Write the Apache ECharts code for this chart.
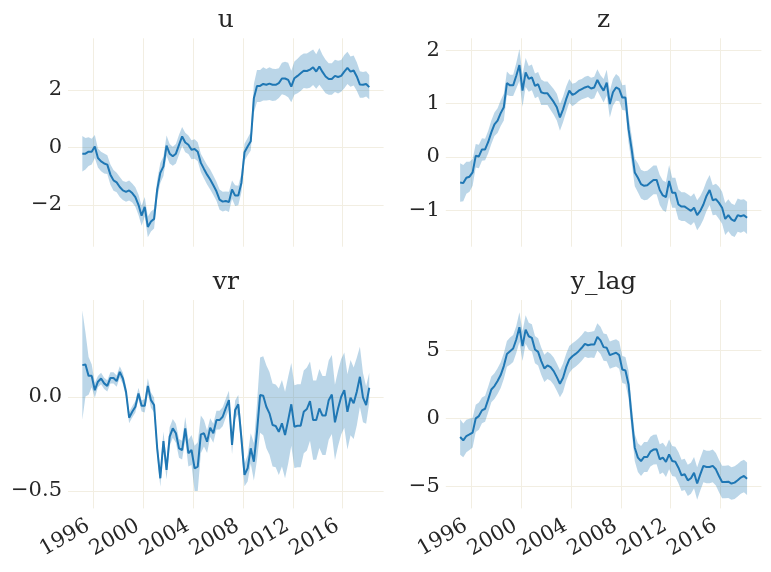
<!DOCTYPE html>
<html>
<head>
<meta charset="utf-8">
<script src="https://cdn.jsdelivr.net/npm/echarts@6/dist/echarts.min.js"></script>
<style>
html, body { margin: 0; padding: 0; background: #fff; }
#chart { width: 771px; height: 572px; }
</style>
</head>
<body>
<div id="chart"></div>
<script>
// quarterly observations 1995Q1 - 2018Q1, plotted mid-quarter
const quarters = []
for (let y = 1995; y <= 2018; y++) {
  for (let q = 1; q <= 4; q++) {
    if (y === 2018 && q > 1) break
    quarters.push(y + '-Q' + q)
  }
}
const xYears = quarters.map(s => Number(s.slice(0, 4)) + (Number(s.slice(6)) - 1) * 0.25 + 0.125)

const yearTicks = [1996, 2000, 2004, 2008, 2012, 2016]

// u
const u = [-0.22, -0.22, -0.15, -0.15, 0.03, -0.37, -0.49, -0.56, -0.6, -0.95,
  -1.15, -1.22, -1.38, -1.5, -1.55, -1.5, -1.59, -1.73, -2.0, -2.38,
  -2.07, -2.77, -2.58, -2.49, -1.47, -0.89, -0.66, 0.06, -0.22, -0.31,
  -0.22, 0.09, 0.38, 0.17, 0.09, -0.08, -0.06, -0.15, -0.54, -0.75,
  -0.95, -1.12, -1.32, -1.53, -1.82, -1.89, -1.87, -1.9, -1.47, -1.68,
  -1.68, -1.24, -0.17, 0.03, 0.21, 1.71, 2.14, 2.14, 2.21, 2.18,
  2.22, 2.18, 2.18, 2.24, 2.4, 2.4, 2.35, 2.12, 2.41, 2.49,
  2.58, 2.67, 2.66, 2.71, 2.79, 2.64, 2.82, 2.63, 2.47, 2.38,
  2.38, 2.49, 2.45, 2.49, 2.64, 2.77, 2.64, 2.68, 2.47, 2.19,
  2.18, 2.21, 2.1]
const uErr = [0.62, 0.55, 0.5, 0.45, 0.4,
  0.33, 0.34, 0.35, 0.33, 0.35, 0.36, 0.34, 0.35, 0.33, 0.34, 0.35, 0.33, 0.34, 0.36, 0.35, 0.34, 0.36, 0.35, 0.34,
  0.33, 0.35, 0.34, 0.35, 0.34, 0.33, 0.34, 0.35, 0.33, 0.34, 0.32, 0.33, 0.34, 0.33, 0.32, 0.33,
  0.34, 0.35, 0.34, 0.33, 0.35, 0.34, 0.33, 0.35, 0.32, 0.36, 0.34, 0.33, 0.3, 0.3, 0.32,
  0.5, 0.56, 0.56, 0.58, 0.55, 0.57, 0.56, 0.55, 0.52, 0.55, 0.58, 0.6, 0.55, 0.58, 0.6, 0.62, 0.6, 0.61, 0.63,
  0.62, 0.6, 0.64, 0.6, 0.58, 0.55, 0.55, 0.56, 0.57, 0.55, 0.58, 0.56, 0.53, 0.52, 0.5, 0.46, 0.45, 0.44, 0.42]
const uTicks = [-2, 0, 2]

// z
const z = [-0.48, -0.49, -0.39, -0.37, -0.29, 0.02, 0.01, 0.14, 0.14, 0.28,
  0.46, 0.61, 0.68, 0.82, 0.93, 1.38, 1.34, 1.34, 1.52, 1.72,
  1.24, 1.58, 1.46, 1.49, 1.33, 1.36, 1.21, 1.19, 1.19, 1.11,
  1.03, 0.93, 0.74, 0.89, 1.08, 1.24, 1.16, 1.19, 1.24, 1.27,
  1.3, 1.32, 1.28, 1.3, 1.44, 1.33, 1.24, 1.39, 0.99, 1.21,
  1.3, 1.27, 1.11, 1.11, 0.52, 0.14, -0.29, -0.39, -0.51, -0.54,
  -0.53, -0.48, -0.43, -0.43, -0.62, -0.72, -0.75, -0.45, -0.67, -0.67,
  -0.89, -0.93, -0.93, -0.97, -1.01, -0.95, -1.09, -1.01, -0.89, -0.73,
  -0.62, -0.81, -0.79, -0.86, -0.95, -1.16, -1.09, -1.17, -1.2, -1.09,
  -1.11, -1.09, -1.14]
const zErr = [0.36, 0.34, 0.3, 0.28, 0.25,
  0.22, 0.22, 0.21, 0.2, 0.21, 0.22, 0.22, 0.23, 0.24, 0.25,
  0.22, 0.2, 0.2, 0.24, 0.3, 0.3,
  0.27, 0.24, 0.24, 0.23, 0.23, 0.24, 0.22, 0.22, 0.23, 0.24, 0.25, 0.25, 0.24, 0.24, 0.22, 0.21, 0.2,
  0.2, 0.19, 0.2, 0.2, 0.2, 0.2, 0.2, 0.2, 0.22, 0.24, 0.25, 0.25, 0.25, 0.23, 0.23, 0.24,
  0.25, 0.25, 0.26, 0.27, 0.27, 0.27, 0.27, 0.27, 0.27, 0.27, 0.28, 0.28, 0.28, 0.3, 0.28, 0.28, 0.28, 0.27, 0.27,
  0.27, 0.27, 0.27, 0.28, 0.28, 0.28, 0.28, 0.28, 0.28, 0.29, 0.3, 0.3, 0.3, 0.3, 0.3, 0.3, 0.31, 0.31, 0.3, 0.3]
const zTicks = [-1, 0, 1, 2]

// vr
const vr = [0.168, 0.171, 0.111, 0.111, 0.035, 0.08, 0.097, 0.071, 0.058, 0.1,
  0.1, 0.083, 0.132, 0.097, 0.027, -0.111, -0.08, -0.053, 0.018, -0.048,
  -0.048, 0.058, -0.018, -0.044, -0.274, -0.433, -0.235, -0.389, -0.212, -0.168,
  -0.194, -0.274, -0.283, -0.168, -0.3, -0.283, -0.38, -0.371, -0.2, -0.194,
  -0.239, -0.164, -0.194, -0.124, -0.124, -0.106, -0.06,
  -0.018, -0.256, -0.07, -0.04, -0.22, -0.415, -0.38, -0.274, -0.345, -0.186,
  0.009, 0.005, -0.053, -0.088, -0.15, -0.155, -0.186, -0.141, -0.203, -0.124,
  -0.04, -0.159, -0.154, -0.154, -0.08, -0.065, -0.023, -0.124, -0.124, -0.062,
  -0.1, -0.1, -0.018, 0.012, -0.136, -0.062, 0.0, 0.035, -0.08, -0.005,
  -0.035, 0.027, 0.106, -0.005, -0.044, 0.048]
const vrErr = [0.29, 0.17, 0.1, 0.06, 0.04,
  0.03, 0.03, 0.03, 0.03, 0.03, 0.03, 0.03, 0.03, 0.03, 0.03,
  0.03, 0.03, 0.03, 0.03, 0.03, 0.035, 0.04, 0.04, 0.04,
  0.04, 0.045, 0.05, 0.05, 0.05, 0.05, 0.05, 0.05, 0.05, 0.06, 0.07, 0.08, 0.12, 0.13, 0.1, 0.07,
  0.06, 0.05, 0.05, 0.05, 0.05, 0.05, 0.05,
  0.05, 0.05, 0.05, 0.05, 0.06, 0.06, 0.07, 0.08, 0.1,
  0.15, 0.2, 0.21, 0.22, 0.22, 0.22, 0.22, 0.23, 0.23, 0.23, 0.23, 0.22, 0.22, 0.22, 0.22, 0.22, 0.22, 0.21,
  0.21, 0.21, 0.21, 0.21, 0.21, 0.21, 0.21, 0.2, 0.2, 0.2, 0.2, 0.2, 0.2, 0.19, 0.18, 0.16, 0.13, 0.1, 0.08]
const vrTicks = [-0.5, 0.0]

// y_lag
const yLag = [-1.37, -1.62, -1.3, -1.18, -1.05, 0.0, 0.17, 0.59, 0.71, 1.4,
  2.13, 2.38, 2.75, 3.19, 3.85, 4.75, 4.95, 5.15, 5.81, 6.72,
  5.32, 6.54, 6.05, 5.93, 5.07, 4.9, 4.22, 3.68, 3.9, 3.77,
  3.48, 3.04, 2.55, 2.99, 3.77, 4.34, 4.58, 4.75, 4.95, 5.2,
  5.49, 5.39, 5.44, 5.44, 6.0, 5.75, 5.25,
  5.2, 4.66, 4.75, 4.83, 4.66, 3.6, 3.53, 2.5, 0.05, -2.16,
  -2.89, -3.14, -2.84, -2.84, -2.45, -2.3, -2.28, -3.01, -2.89, -3.21,
  -2.65, -3.14, -3.19, -3.63, -4.19, -4.12, -4.56, -4.41, -4.0, -4.8,
  -4.12, -3.5, -3.58, -3.58, -3.5, -3.75, -4.24, -4.68, -4.68, -4.66,
  -4.8, -4.73, -4.56, -4.36, -4.24, -4.44]
const yLagErr = [1.3, 1.25, 1.2, 1.15, 1.1,
  1.0, 1.0, 0.95, 0.95, 0.95, 0.95, 0.95, 0.95, 0.95, 0.95, 0.95, 1.0, 1.0, 1.0, 1.1,
  1.1, 1.05, 1.0, 1.0, 1.0, 1.0, 1.0, 1.0, 1.0, 1.0, 1.0, 1.0, 1.0, 1.05, 1.0, 1.0, 0.95, 0.95,
  0.95, 0.95, 0.95, 0.95, 0.95, 1.0, 1.0, 1.0, 1.0, 1.0, 1.0, 1.0, 1.0, 1.0, 1.0, 1.0, 1.0,
  1.0, 1.0, 1.05, 1.1, 1.1, 1.1, 1.1, 1.1, 1.1, 1.1, 1.1, 1.1, 1.1, 1.1, 1.1, 1.15, 1.15, 1.15, 1.15,
  1.15, 1.15, 1.2, 1.2, 1.2, 1.2, 1.2, 1.2, 1.2, 1.2, 1.2, 1.2, 1.2, 1.2, 1.2, 1.2, 1.2, 1.2, 1.2]
const yLagTicks = [-5, 0, 5]

const FONT = 'DejaVu Serif'
const TEXT = '#262626'
const GRIDLINE = '#f2eee2'
const LINE = '#1f77b4'
const BAND = 'rgba(31,119,180,0.3)'

// 面板布局
const panels = [
  { title: 'u', vals: u, errs: uErr, ticks: uTicks, min: -3.46, max: 3.8, left: 68, top: 38.3, dec: 0 },
  { title: 'z', vals: z, errs: zErr, ticks: zTicks, min: -1.68, max: 2.22, left: 445.8, top: 38.3, dec: 0 },
  { title: 'vr', vals: vr, errs: vrErr, ticks: vrTicks, min: -0.593, max: 0.514, left: 68, top: 300, dec: 1 },
  { title: 'y_lag', vals: yLag, errs: yLagErr, ticks: yLagTicks, min: -6.63, max: 8.72, left: 445.8, top: 300, dec: 0 },
]
const W = 315.6
const H = 208.4

function fmt(v, dec) {
  const s = Math.abs(v).toFixed(dec)
  return v < 0 ? '\u2212' + s : s
}

const chart = echarts.init(document.getElementById('chart'))
const option = {
  animation: false,
  backgroundColor: '#fff',
  title: panels.map(p => ({
    text: p.title,
    left: p.left + W / 2,
    top: p.top - 30,
    textAlign: 'center',
    padding: 0,
    textStyle: { fontFamily: FONT, fontSize: 25, fontWeight: 'normal', color: TEXT },
  })),
  grid: panels.map(p => ({ left: p.left, top: p.top, width: W, height: H })),
  xAxis: panels.map((p, k) => ({
    type: 'value',
    gridIndex: k,
    min: 1993.975,
    max: 2019.275,
    axisLine: { show: false },
    axisTick: { show: false, customValues: yearTicks },
    splitLine: { show: true, lineStyle: { color: GRIDLINE, width: 1 } },
    axisLabel: {
      show: k >= 2,
      customValues: yearTicks,
      rotate: 30,
      align: 'right',
      verticalAlign: 'bottom',
      margin: 25,
      fontFamily: FONT,
      fontSize: 21,
      color: TEXT,
      formatter: v => String(v),
    },
  })),
  yAxis: panels.map((p, k) => ({
    type: 'value',
    gridIndex: k,
    min: p.min,
    max: p.max,
    axisLine: { show: false },
    axisTick: { show: false, customValues: p.ticks },
    splitLine: { show: true, lineStyle: { color: GRIDLINE, width: 1 } },
    axisLabel: {
      customValues: p.ticks,
      margin: 6,
      fontFamily: FONT,
      fontSize: 21,
      color: TEXT,
      formatter: v => fmt(v, p.dec),
    },
  })),
  series: [],
}

panels.forEach((p, k) => {
  // 置信带
  option.series.push({
    type: 'custom',
    xAxisIndex: k,
    yAxisIndex: k,
    silent: true,
    z: 1,
    data: p.vals.map((v, i) => [xYears[i], v - p.errs[i], v + p.errs[i]]),
    encode: { x: 0, y: [1, 2] },
    renderItem: (params, api) => {
      if (params.dataIndex !== 0) return
      const upper = p.vals.map((v, i) => api.coord([xYears[i], v + p.errs[i]]))
      const lower = p.vals.map((v, i) => api.coord([xYears[i], v - p.errs[i]])).reverse()
      return {
        type: 'polygon',
        shape: { points: upper.concat(lower) },
        style: { fill: BAND },
      }
    },
  })
  option.series.push({
    type: 'line',
    xAxisIndex: k,
    yAxisIndex: k,
    z: 3,
    showSymbol: false,
    silent: true,
    data: p.vals.map((v, i) => [xYears[i], v]),
    lineStyle: { color: LINE, width: 2 },
  })
})

chart.setOption(option)
</script>
</body>
</html>
